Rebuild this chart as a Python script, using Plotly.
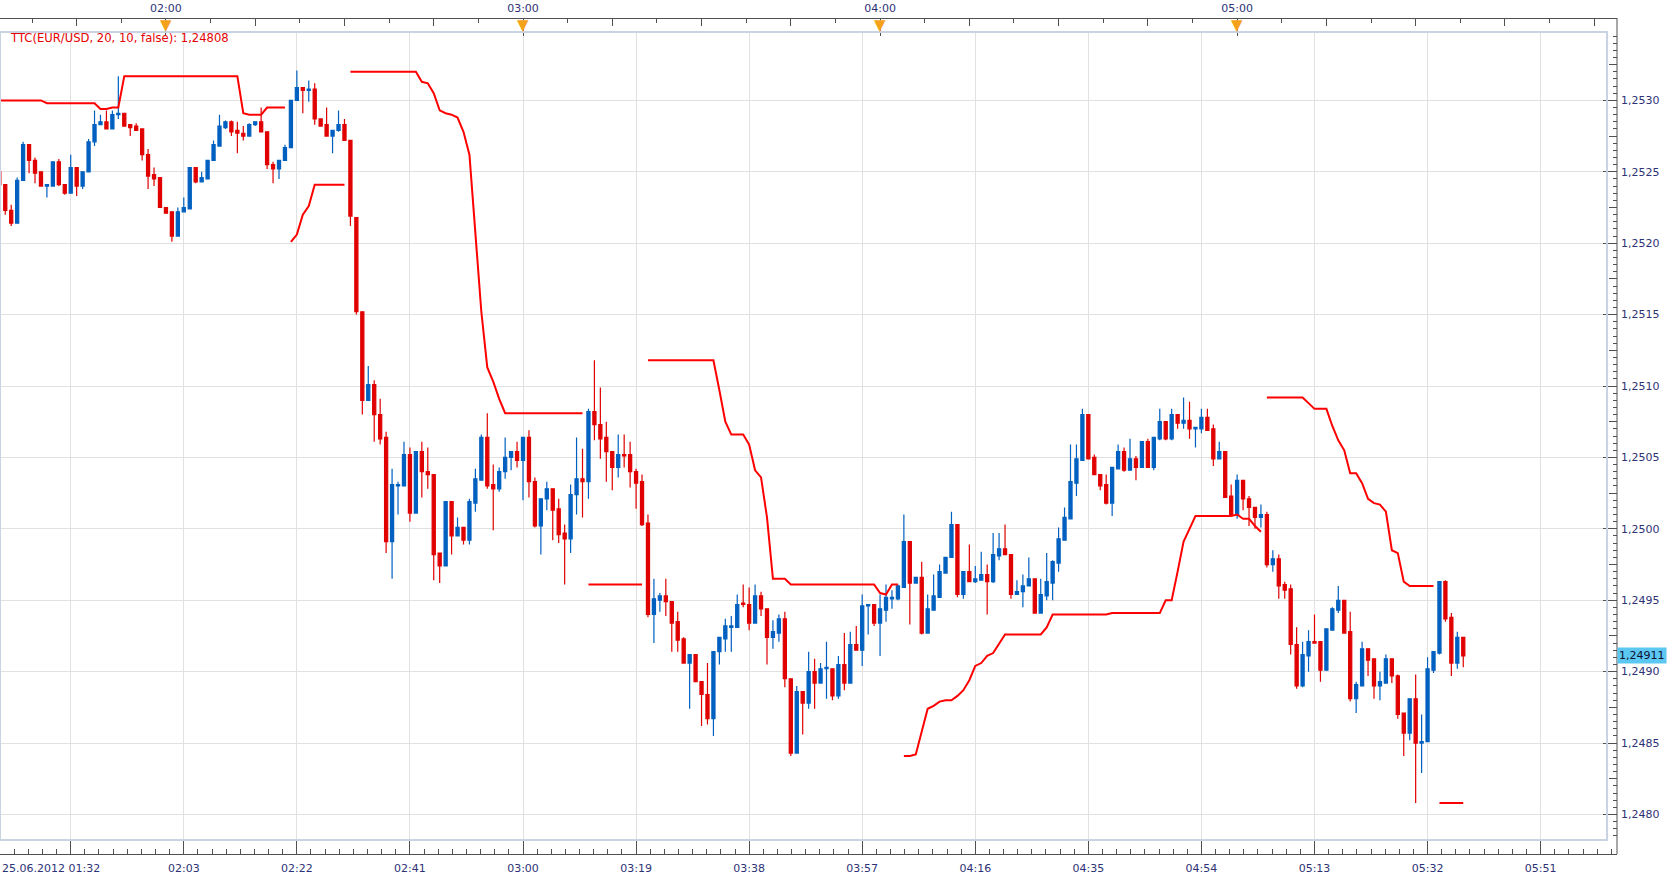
import pandas as pd
import plotly.graph_objects as go

N = None
DAY = "2012-06-25"
START_TIME = "01:32"

opens = [
    1.25250, 1.25241, 1.25223, 1.25214, 1.25244, 1.25269, 1.25258, 1.25250, 1.25240, 1.25240,
    1.25257, 1.25241, 1.25235, 1.25253, 1.25240, 1.25250, 1.25271, 1.25283, 1.25285, 1.25280,
    1.25290, 1.25291, 1.25283, 1.25282, 1.25280, 1.25262, 1.25248, 1.25246, 1.25225, 1.25222,
    1.25205, 1.25222, 1.25224, 1.25253, 1.25243, 1.25245, 1.25258, 1.25268, 1.25281, 1.25285,
    1.25279, 1.25277, 1.25275, 1.25283, 1.25285, 1.25278, 1.25255, 1.25252, 1.25258, 1.25267,
    1.25300, 1.25309, 1.25307, 1.25308, 1.25287, 1.25283, 1.25275, 1.25279, 1.25283, 1.25272,
    1.25218, 1.25152, 1.25090, 1.25101, 1.25080, 1.25064, 1.24991, 1.25030, 1.25030, 1.25052,
    1.25011, 1.25054, 1.25040, 1.25038, 1.24983, 1.24974, 1.25019, 1.24995, 1.25001, 1.24992,
    1.25018, 1.25034, 1.25064, 1.25031, 1.25028, 1.25040, 1.25050, 1.25054, 1.25048, 1.25064,
    1.25033, 1.25002, 1.25021, 1.25028, 1.25014, 1.24997, 1.24993, 1.25024, 1.25035, 1.25033,
    1.25082, 1.25073, 1.25064, 1.25054, 1.25043, 1.25052, 1.25052, 1.25040, 1.25033, 1.25004,
    1.24940, 1.24950, 1.24953, 1.24949, 1.24935, 1.24923, 1.24906, 1.24912, 1.24893, 1.24884,
    1.24867, 1.24914, 1.24923, 1.24931, 1.24931, 1.24948, 1.24947, 1.24934, 1.24953, 1.24944,
    1.24924, 1.24927, 1.24937, 1.24895, 1.24843, 1.24886, 1.24878, 1.24900, 1.24892, 1.24902,
    1.24902, 1.24883, 1.24905, 1.24892, 1.24919, 1.24915, 1.24946, 1.24947, 1.24934, 1.24943,
    1.24951, 1.24951, 1.24959, 1.24991, 1.24962, 1.24966, 1.24927, 1.24943, 1.24952, 1.24969,
    1.24980, 1.25003, 1.24954, 1.24970, 1.24963, 1.24964, 1.24968, 1.24963, 1.24981, 1.24986,
    1.24982, 1.24954, 1.24956, 1.24960, 1.24965, 1.24941, 1.24953, 1.24962, 1.24976, 1.24992,
    1.25007, 1.25032, 1.25048, 1.25080, 1.25050, 1.25038, 1.25031, 1.25018, 1.25042, 1.25054,
    1.25041, 1.25049, 1.25043, 1.25061, 1.25043, 1.25063, 1.25075, 1.25063, 1.25080, 1.25074,
    1.25076, 1.25070, 1.25070, 1.25078, 1.25070, 1.25049, 1.25054, 1.25023, 1.25010, 1.25034,
    1.25021, 1.25015, 1.25008, 1.25010, 1.24975, 1.24979, 1.24961, 1.24958, 1.24919, 1.24890,
    1.24911, 1.24921, 1.24921, 1.24901, 1.24929, 1.24943, 1.24950, 1.24928, 1.24881, 1.24890,
    1.24916, 1.24909, 1.24890, 1.24892, 1.24909, 1.24897, 1.24871, 1.24857, 1.24881, 1.24850,
    1.24851, 1.24901, 1.24913, 1.24963, 1.24938, 1.24906, 1.24924,
]

highs = [
    1.25252, 1.25241, 1.25227, 1.25246, 1.25271, 1.25269, 1.25260, 1.25250, 1.25241, 1.25257,
    1.25259, 1.25241, 1.25262, 1.25253, 1.25250, 1.25273, 1.25293, 1.25290, 1.25293, 1.25293,
    1.25317, 1.25291, 1.25283, 1.25284, 1.25280, 1.25266, 1.25253, 1.25246, 1.25225, 1.25222,
    1.25225, 1.25232, 1.25253, 1.25253, 1.25250, 1.25258, 1.25272, 1.25290, 1.25286, 1.25286,
    1.25285, 1.25282, 1.25284, 1.25285, 1.25295, 1.25278, 1.25257, 1.25258, 1.25269, 1.25300,
    1.25321, 1.25309, 1.25314, 1.25312, 1.25287, 1.25295, 1.25279, 1.25293, 1.25287, 1.25272,
    1.25218, 1.25152, 1.25114, 1.25104, 1.25091, 1.25068, 1.25042, 1.25033, 1.25061, 1.25057,
    1.25054, 1.25061, 1.25057, 1.25038, 1.24983, 1.25019, 1.25019, 1.25008, 1.25001, 1.25021,
    1.25042, 1.25066, 1.25081, 1.25045, 1.25043, 1.25064, 1.25054, 1.25061, 1.25064, 1.25069,
    1.25036, 1.25021, 1.25033, 1.25028, 1.25021, 1.25003, 1.25031, 1.25064, 1.25056, 1.25084,
    1.25118, 1.25099, 1.25075, 1.25054, 1.25066, 1.25066, 1.25061, 1.25042, 1.25038, 1.25010,
    1.24965, 1.24955, 1.24965, 1.24949, 1.24942, 1.24924, 1.24912, 1.24912, 1.24893, 1.24906,
    1.24914, 1.24924, 1.24937, 1.24939, 1.24954, 1.24961, 1.24959, 1.24961, 1.24956, 1.24944,
    1.24936, 1.24940, 1.24942, 1.24895, 1.24890, 1.24886, 1.24914, 1.24909, 1.24906, 1.24921,
    1.24902, 1.24911, 1.24927, 1.24928, 1.24932, 1.24954, 1.24947, 1.24947, 1.24954, 1.24961,
    1.24957, 1.24961, 1.25010, 1.24991, 1.24966, 1.24977, 1.24954, 1.24968, 1.24975, 1.24980,
    1.25012, 1.25003, 1.24970, 1.24989, 1.24974, 1.24984, 1.24975, 1.24997, 1.24997, 1.25003,
    1.24982, 1.24964, 1.24968, 1.24980, 1.24965, 1.24965, 1.24983, 1.24978, 1.25001, 1.25015,
    1.25059, 1.25059, 1.25084, 1.25080, 1.25052, 1.25038, 1.25038, 1.25043, 1.25059, 1.25057,
    1.25063, 1.25051, 1.25061, 1.25063, 1.25064, 1.25084, 1.25075, 1.25084, 1.25080, 1.25092,
    1.25089, 1.25071, 1.25084, 1.25084, 1.25073, 1.25061, 1.25054, 1.25031, 1.25038, 1.25034,
    1.25023, 1.25015, 1.25017, 1.25012, 1.24985, 1.24982, 1.24963, 1.24961, 1.24931, 1.24921,
    1.24929, 1.24940, 1.24921, 1.24930, 1.24945, 1.24960, 1.24950, 1.24942, 1.24893, 1.24921,
    1.24916, 1.24909, 1.24900, 1.24912, 1.24909, 1.24898, 1.24871, 1.24881, 1.24898, 1.24870,
    1.24910, 1.24914, 1.24963, 1.24964, 1.24941, 1.24928, 1.24924,
]

lows = [
    1.25239, 1.25220, 1.25212, 1.25214, 1.25244, 1.25249, 1.25242, 1.25240, 1.25232, 1.25240,
    1.25240, 1.25234, 1.25235, 1.25233, 1.25238, 1.25250, 1.25268, 1.25283, 1.25280, 1.25280,
    1.25287, 1.25282, 1.25275, 1.25279, 1.25258, 1.25238, 1.25240, 1.25225, 1.25221, 1.25201,
    1.25205, 1.25222, 1.25224, 1.25242, 1.25243, 1.25245, 1.25258, 1.25268, 1.25280, 1.25275,
    1.25263, 1.25272, 1.25275, 1.25282, 1.25278, 1.25252, 1.25242, 1.25245, 1.25258, 1.25267,
    1.25300, 1.25291, 1.25299, 1.25283, 1.25282, 1.25275, 1.25263, 1.25278, 1.25272, 1.25212,
    1.25150, 1.25080, 1.25090, 1.25061, 1.25059, 1.24983, 1.24965, 1.25010, 1.25030, 1.25005,
    1.25011, 1.25022, 1.25028, 1.24964, 1.24962, 1.24974, 1.24982, 1.24995, 1.24989, 1.24989,
    1.25012, 1.25034, 1.25028, 1.24999, 1.25026, 1.25035, 1.25041, 1.25043, 1.25020, 1.25022,
    1.25001, 1.24982, 1.25013, 1.24992, 1.24990, 1.24961, 1.24983, 1.25010, 1.25008, 1.25021,
    1.25062, 1.25049, 1.25033, 1.25027, 1.25036, 1.25043, 1.25029, 1.25014, 1.25002, 1.24938,
    1.24920, 1.24942, 1.24939, 1.24914, 1.24914, 1.24906, 1.24874, 1.24893, 1.24862, 1.24863,
    1.24855, 1.24905, 1.24914, 1.24914, 1.24931, 1.24945, 1.24929, 1.24934, 1.24939, 1.24905,
    1.24916, 1.24921, 1.24889, 1.24841, 1.24843, 1.24856, 1.24874, 1.24874, 1.24892, 1.24881,
    1.24880, 1.24881, 1.24887, 1.24892, 1.24915, 1.24904, 1.24926, 1.24932, 1.24911, 1.24935,
    1.24944, 1.24950, 1.24959, 1.24933, 1.24962, 1.24926, 1.24927, 1.24943, 1.24952, 1.24969,
    1.24980, 1.24952, 1.24951, 1.24963, 1.24962, 1.24964, 1.24940, 1.24962, 1.24978, 1.24982,
    1.24951, 1.24954, 1.24945, 1.24960, 1.24941, 1.24941, 1.24950, 1.24950, 1.24970, 1.24992,
    1.25007, 1.25023, 1.25048, 1.25049, 1.25038, 1.25027, 1.25017, 1.25009, 1.25042, 1.25040,
    1.25041, 1.25034, 1.25043, 1.25043, 1.25041, 1.25062, 1.25062, 1.25062, 1.25070, 1.25070,
    1.25063, 1.25057, 1.25067, 1.25069, 1.25044, 1.25049, 1.25022, 1.25010, 1.25007, 1.25013,
    1.25002, 1.25000, 1.25001, 1.24973, 1.24970, 1.24951, 1.24951, 1.24912, 1.24888, 1.24889,
    1.24900, 1.24920, 1.24893, 1.24901, 1.24929, 1.24941, 1.24927, 1.24879, 1.24871, 1.24890,
    1.24897, 1.24881, 1.24880, 1.24892, 1.24892, 1.24867, 1.24841, 1.24852, 1.24808, 1.24829,
    1.24851, 1.24899, 1.24912, 1.24935, 1.24897, 1.24902, 1.24903,
]

closes = [
    1.25241, 1.25223, 1.25214, 1.25244, 1.25269, 1.25258, 1.25249, 1.25240, 1.25241, 1.25257,
    1.25241, 1.25235, 1.25253, 1.25240, 1.25250, 1.25271, 1.25283, 1.25285, 1.25280, 1.25290,
    1.25291, 1.25282, 1.25281, 1.25279, 1.25262, 1.25247, 1.25245, 1.25225, 1.25221, 1.25205,
    1.25222, 1.25225, 1.25253, 1.25243, 1.25246, 1.25258, 1.25269, 1.25282, 1.25285, 1.25278,
    1.25277, 1.25275, 1.25283, 1.25285, 1.25278, 1.25255, 1.25252, 1.25258, 1.25267, 1.25300,
    1.25309, 1.25307, 1.25308, 1.25287, 1.25282, 1.25275, 1.25279, 1.25283, 1.25272, 1.25219,
    1.25152, 1.25090, 1.25101, 1.25080, 1.25063, 1.24991, 1.25031, 1.25031, 1.25052, 1.25011,
    1.25054, 1.25040, 1.25038, 1.24982, 1.24974, 1.25019, 1.24995, 1.25001, 1.24992, 1.25019,
    1.25035, 1.25064, 1.25030, 1.25028, 1.25040, 1.25050, 1.25054, 1.25048, 1.25064, 1.25033,
    1.25002, 1.25021, 1.25028, 1.25013, 1.24996, 1.24993, 1.25024, 1.25035, 1.25033, 1.25082,
    1.25073, 1.25063, 1.25054, 1.25043, 1.25052, 1.25051, 1.25040, 1.25032, 1.25003, 1.24940,
    1.24951, 1.24953, 1.24949, 1.24934, 1.24922, 1.24906, 1.24912, 1.24893, 1.24884, 1.24867,
    1.24914, 1.24924, 1.24932, 1.24932, 1.24947, 1.24947, 1.24934, 1.24953, 1.24944, 1.24924,
    1.24928, 1.24937, 1.24895, 1.24843, 1.24886, 1.24878, 1.24900, 1.24892, 1.24902, 1.24903,
    1.24883, 1.24905, 1.24892, 1.24919, 1.24915, 1.24946, 1.24947, 1.24934, 1.24944, 1.24952,
    1.24952, 1.24960, 1.24991, 1.24962, 1.24966, 1.24927, 1.24944, 1.24953, 1.24970, 1.24980,
    1.25003, 1.24954, 1.24970, 1.24963, 1.24965, 1.24968, 1.24963, 1.24982, 1.24986, 1.24982,
    1.24954, 1.24956, 1.24960, 1.24965, 1.24941, 1.24954, 1.24963, 1.24977, 1.24993, 1.25008,
    1.25033, 1.25049, 1.25080, 1.25049, 1.25038, 1.25030, 1.25018, 1.25043, 1.25054, 1.25041,
    1.25049, 1.25043, 1.25061, 1.25043, 1.25064, 1.25075, 1.25063, 1.25080, 1.25074, 1.25076,
    1.25070, 1.25071, 1.25078, 1.25069, 1.25049, 1.25054, 1.25022, 1.25010, 1.25034, 1.25021,
    1.25015, 1.25008, 1.25010, 1.24975, 1.24979, 1.24960, 1.24957, 1.24919, 1.24890, 1.24912,
    1.24921, 1.24920, 1.24901, 1.24930, 1.24944, 1.24950, 1.24927, 1.24881, 1.24891, 1.24916,
    1.24908, 1.24890, 1.24893, 1.24909, 1.24897, 1.24870, 1.24857, 1.24881, 1.24850, 1.24851,
    1.24902, 1.24914, 1.24963, 1.24937, 1.24906, 1.24924, 1.24911,
]

# TTC indicator: stop line above price (down trend) and below price (up trend)
ttc_upper = [
    1.25300, 1.25300, 1.25300, 1.25300, 1.25300, 1.25300, 1.25300, 1.25300, 1.25298, 1.25298,
    1.25298, 1.25298, 1.25298, 1.25298, 1.25298, 1.25298, 1.25298, 1.25294, 1.25294, 1.25295,
    1.25295, 1.25317, 1.25317, 1.25317, 1.25317, 1.25317, 1.25317, 1.25317, 1.25317, 1.25317,
    1.25317, 1.25317, 1.25317, 1.25317, 1.25317, 1.25317, 1.25317, 1.25317, 1.25317, 1.25317,
    1.25317, 1.25291, 1.25290, 1.25290, 1.25290, 1.25295, 1.25295, 1.25295, 1.25295, N,
    N, N, N, N, N, N, N, N, N, 1.25320,
    1.25320, 1.25320, 1.25320, 1.25320, 1.25320, 1.25320, 1.25320, 1.25320, 1.25320, 1.25320,
    1.25320, 1.25313, 1.25312, 1.25305, 1.25293, 1.25291, 1.25290, 1.25288, 1.25278, 1.25262,
    1.25210, 1.25152, 1.25113, 1.25103, 1.25091, 1.25081, 1.25081, 1.25081, 1.25081, 1.25081,
    1.25081, 1.25081, 1.25081, 1.25081, 1.25081, 1.25081, 1.25081, 1.25081, 1.25081, N,
    N, N, N, N, N, N, N, N, N, 1.25118,
    1.25118, 1.25118, 1.25118, 1.25118, 1.25118, 1.25118, 1.25118, 1.25118, 1.25118, 1.25118,
    1.25118, 1.25097, 1.25075, 1.25066, 1.25066, 1.25066, 1.25059, 1.25041, 1.25036, 1.25008,
    1.24965, 1.24965, 1.24965, 1.24961, 1.24961, 1.24961, 1.24961, 1.24961, 1.24961, 1.24961,
    1.24961, 1.24961, 1.24961, 1.24961, 1.24961, 1.24961, 1.24961, 1.24961, 1.24955, 1.24954,
    1.24961, 1.24961, N, N, N, N, N, N, N, N,
    N, N, N, N, N, N, N, N, N, N,
    N, N, N, N, N, N, N, N, N, N,
    N, N, N, N, N, N, N, N, N, N,
    N, N, N, N, N, N, N, N, N, N,
    N, N, N, N, N, N, N, N, N, N,
    N, N, N, 1.25092, 1.25092, 1.25092, 1.25092, 1.25092, 1.25092, 1.25092,
    1.25088, 1.25084, 1.25084, 1.25084, 1.25072, 1.25062, 1.25055, 1.25039, 1.25039, 1.25032,
    1.25021, 1.25018, 1.25017, 1.25012, 1.24985, 1.24983, 1.24963, 1.24960, 1.24960, 1.24960,
    1.24960, 1.24960, N, N, N, N, N,
]

ttc_lower = [
    N, N, N, N, N, N, N, N, N, N,
    N, N, N, N, N, N, N, N, N, N,
    N, N, N, N, N, N, N, N, N, N,
    N, N, N, N, N, N, N, N, N, N,
    N, N, N, N, N, N, N, N, N, 1.25201,
    1.25206, 1.25220, 1.25226, 1.25241, 1.25241, 1.25241, 1.25241, 1.25241, 1.25241, N,
    N, N, N, N, N, N, N, N, N, N,
    N, N, N, N, N, N, N, N, N, N,
    N, N, N, N, N, N, N, N, N, N,
    N, N, N, N, N, N, N, N, N, 1.24961,
    1.24961, 1.24961, 1.24961, 1.24961, 1.24961, 1.24961, 1.24961, 1.24961, 1.24961, N,
    N, N, N, N, N, N, N, N, N, N,
    N, N, N, N, N, N, N, N, N, N,
    N, N, N, N, N, N, N, N, N, N,
    N, N, N, N, N, N, N, N, N, N,
    N, N, 1.24841, 1.24841, 1.24842, 1.24858, 1.24874, 1.24876, 1.24879, 1.24880,
    1.24880, 1.24883, 1.24887, 1.24894, 1.24904, 1.24906, 1.24911, 1.24913, 1.24920, 1.24926,
    1.24926, 1.24926, 1.24926, 1.24926, 1.24926, 1.24926, 1.24931, 1.24940, 1.24940, 1.24940,
    1.24940, 1.24940, 1.24940, 1.24940, 1.24940, 1.24940, 1.24940, 1.24941, 1.24941, 1.24941,
    1.24941, 1.24941, 1.24941, 1.24941, 1.24941, 1.24941, 1.24950, 1.24950, 1.24970, 1.24991,
    1.25000, 1.25009, 1.25009, 1.25009, 1.25009, 1.25009, 1.25009, 1.25009, 1.25010, 1.25007,
    1.25007, 1.25002, 1.24998, N, N, N, N, N, N, N,
    N, N, N, N, N, N, N, N, N, N,
    N, N, N, N, N, N, N, N, N, N,
    N, N, 1.24808, 1.24808, 1.24808, 1.24808, 1.24808,
]

ttc_label = "TTC(EUR/USD, 20, 10, false): 1,24808"
date_label = "25.06.2012 01:32"
last_price = 1.24911
last_price_label = "1,24911"

bottom_tick_times = ["01:44", "02:03", "02:22", "02:41", "03:00", "03:19", "03:38",
                     "03:57", "04:16", "04:35", "04:54", "05:13", "05:32", "05:51"]
bottom_tick_text = ["", "02:03", "02:22", "02:41", "03:00", "03:19", "03:38",
                    "03:57", "04:16", "04:35", "04:54", "05:13", "05:32", "05:51"]
top_hour_times = ["02:00", "03:00", "04:00", "05:00"]
top_quarter_times = ["01:45", "02:15", "02:30", "02:45", "03:15", "03:30", "03:45",
                     "04:15", "04:30", "04:45", "05:15", "05:30", "05:45", "06:00"]
price_ticks = [1.2480, 1.2485, 1.2490, 1.2495, 1.2500, 1.2505, 1.2510,
               1.2515, 1.2520, 1.2525, 1.2530]
price_tick_text = ["1,2480", "1,2485", "1,2490", "1,2495", "1,2500", "1,2505", "1,2510",
                   "1,2515", "1,2520", "1,2525", "1,2530"]

# ---- styling ----
FONT = "DejaVu Sans"
NAVY = "#2E3276"
AXIS = "#505050"
GRID = "#E1E1E1"
BLUE = "#0060C0"
RED = "#E00000"
LINE_RED = "#FF0000"
W, H = 1674, 880
M_L, M_R, M_T, M_B = 0, 57, 18, 26
PAPER_W = W - M_L - M_R
PAPER_H = H - M_T - M_B
PLOT_TOP, PLOT_BOTTOM, PLOT_RIGHT = 32, 840, 1607


def ts(hm):
    return f"{DAY} {hm}"


def py(y_px):
    return (H - M_B - y_px) / PAPER_H


times = pd.date_range(ts(START_TIME), periods=len(opens), freq="min")
X_RANGE = [ts("01:32:07"), ts("06:03:50")]
Y_RANGE = [1.247821, 1.253479]

fig = go.Figure()
fig.add_trace(go.Candlestick(
    x=times, open=opens, high=highs, low=lows, close=closes,
    increasing=dict(line=dict(color=BLUE, width=1.2), fillcolor=BLUE),
    decreasing=dict(line=dict(color=RED, width=1.2), fillcolor=RED),
    whiskerwidth=0, hoverinfo="skip", showlegend=False,
))
for series in (ttc_upper, ttc_lower):
    fig.add_trace(go.Scatter(
        x=times, y=series, mode="lines", connectgaps=False,
        line=dict(color=LINE_RED, width=2), hoverinfo="skip", showlegend=False,
    ))
# invisible anchors so that the decorative overlay axes are drawn
for xa, ya in (("x2", "y"), ("x3", "y"), ("x", "y2")):
    fig.add_trace(go.Scatter(
        x=times[:1], y=closes[:1], xaxis=xa, yaxis=ya, mode="markers",
        marker=dict(opacity=0), hoverinfo="skip", showlegend=False,
    ))

axis_font = dict(family=FONT, size=11, color=NAVY)
y_domain = [py(PLOT_BOTTOM), py(PLOT_TOP)]

fig.update_layout(
    width=W, height=H,
    margin=dict(l=M_L, r=M_R, t=M_T, b=M_B, pad=0, autoexpand=False),
    paper_bgcolor="white", plot_bgcolor="white",
    showlegend=False, hovermode=False, boxgap=0.25,
    font=dict(family=FONT, size=11, color=NAVY),
    xaxis=dict(
        type="date", range=X_RANGE, domain=[0, 1], anchor="free", position=0,
        tickmode="array", tickvals=[ts(t) for t in bottom_tick_times], ticktext=bottom_tick_text,
        ticks="inside", ticklen=14, tickwidth=1, tickcolor=AXIS,
        showline=True, linecolor=AXIS, linewidth=1,
        showgrid=True, gridcolor=GRID, gridwidth=1, zeroline=False,
        tickfont=axis_font, ticklabelstandoff=4,
        minor=dict(ticks="inside", ticklen=5, tickwidth=1, tickcolor=AXIS,
                   tick0=ts("01:44"), dtick=142500, showgrid=False),
        rangeslider=dict(visible=False), fixedrange=True,
    ),
    xaxis2=dict(
        type="date", range=X_RANGE, overlaying="x", side="top", anchor="free", position=1,
        tickmode="array", tickvals=[ts(t) for t in top_hour_times], ticktext=top_hour_times,
        ticks="inside", ticklen=17, tickwidth=1, tickcolor=AXIS,
        showline=True, linecolor=AXIS, linewidth=1, showgrid=False, zeroline=False,
        tickfont=axis_font, ticklabelstandoff=2,
        minor=dict(ticks="inside", ticklen=4, tickwidth=1, tickcolor=AXIS,
                   tick0=ts("02:00"), dtick=450000, showgrid=False),
        fixedrange=True,
    ),
    xaxis3=dict(
        type="date", range=X_RANGE, overlaying="x", side="top", anchor="free", position=1,
        tickmode="array", tickvals=[ts(t) for t in top_quarter_times],
        ticks="inside", ticklen=7, tickwidth=1, tickcolor=AXIS,
        showticklabels=False, showline=False, showgrid=False, zeroline=False, fixedrange=True,
    ),
    yaxis=dict(
        range=Y_RANGE, domain=y_domain, side="right", anchor="free", position=1,
        tickmode="array", tickvals=price_ticks, ticktext=price_tick_text,
        ticks="inside", ticklen=14, tickwidth=1, tickcolor=AXIS,
        showline=False, showgrid=True, gridcolor=GRID, gridwidth=1, zeroline=False,
        tickfont=axis_font, ticklabelstandoff=3,
        minor=dict(ticks="inside", ticklen=4, tickwidth=1, tickcolor=AXIS,
                   tick0=1.2480, dtick=0.00005, showgrid=False),
        fixedrange=True,
    ),
    yaxis2=dict(
        range=Y_RANGE, overlaying="y", side="right", anchor="free", position=1,
        tickmode="linear", tick0=1.2480, dtick=0.00025,
        ticks="inside", ticklen=8, tickwidth=1, tickcolor=AXIS,
        showticklabels=False, showline=False, showgrid=False, zeroline=False, fixedrange=True,
    ),
)

shapes = [
    dict(type="rect", xref="paper", yref="paper", x0=0, x1=PLOT_RIGHT / PAPER_W,
         y0=y_domain[0], y1=y_domain[1], line=dict(color="#C9D3E1", width=2), layer="above"),
    dict(type="line", xref="paper", yref="paper", x0=1, x1=1, y0=0, y1=1,
         line=dict(color=AXIS, width=1)),
]
annotations = [
    dict(text=ttc_label, xref="paper", yref="paper", x=8 / PAPER_W, y=py(38),
         xanchor="left", yanchor="middle", showarrow=False,
         font=dict(family=FONT, size=11.6, color="#E60000")),
    dict(text=date_label, xref="paper", yref="paper", x=0, y=py(868),
         xanchor="left", yanchor="middle", showarrow=False, font=axis_font),
    dict(text=last_price_label, xref="paper", yref="y", x=1, y=last_price,
         xanchor="left", yanchor="middle", showarrow=False, bgcolor="#5CC8F2",
         borderpad=1, font=dict(family=FONT, size=11, color="#101030")),
]
for t in top_hour_times:
    annotations.append(dict(
        text="▼", xref="x", yref="paper", x=ts(t), y=py(25),
        xanchor="center", yanchor="middle", showarrow=False,
        font=dict(family=FONT, size=15, color="#F5A21A"),
    ))
fig.update_layout(shapes=shapes, annotations=annotations)

fig.write_html("out.html", include_plotlyjs=True, config={"displayModeBar": False})
